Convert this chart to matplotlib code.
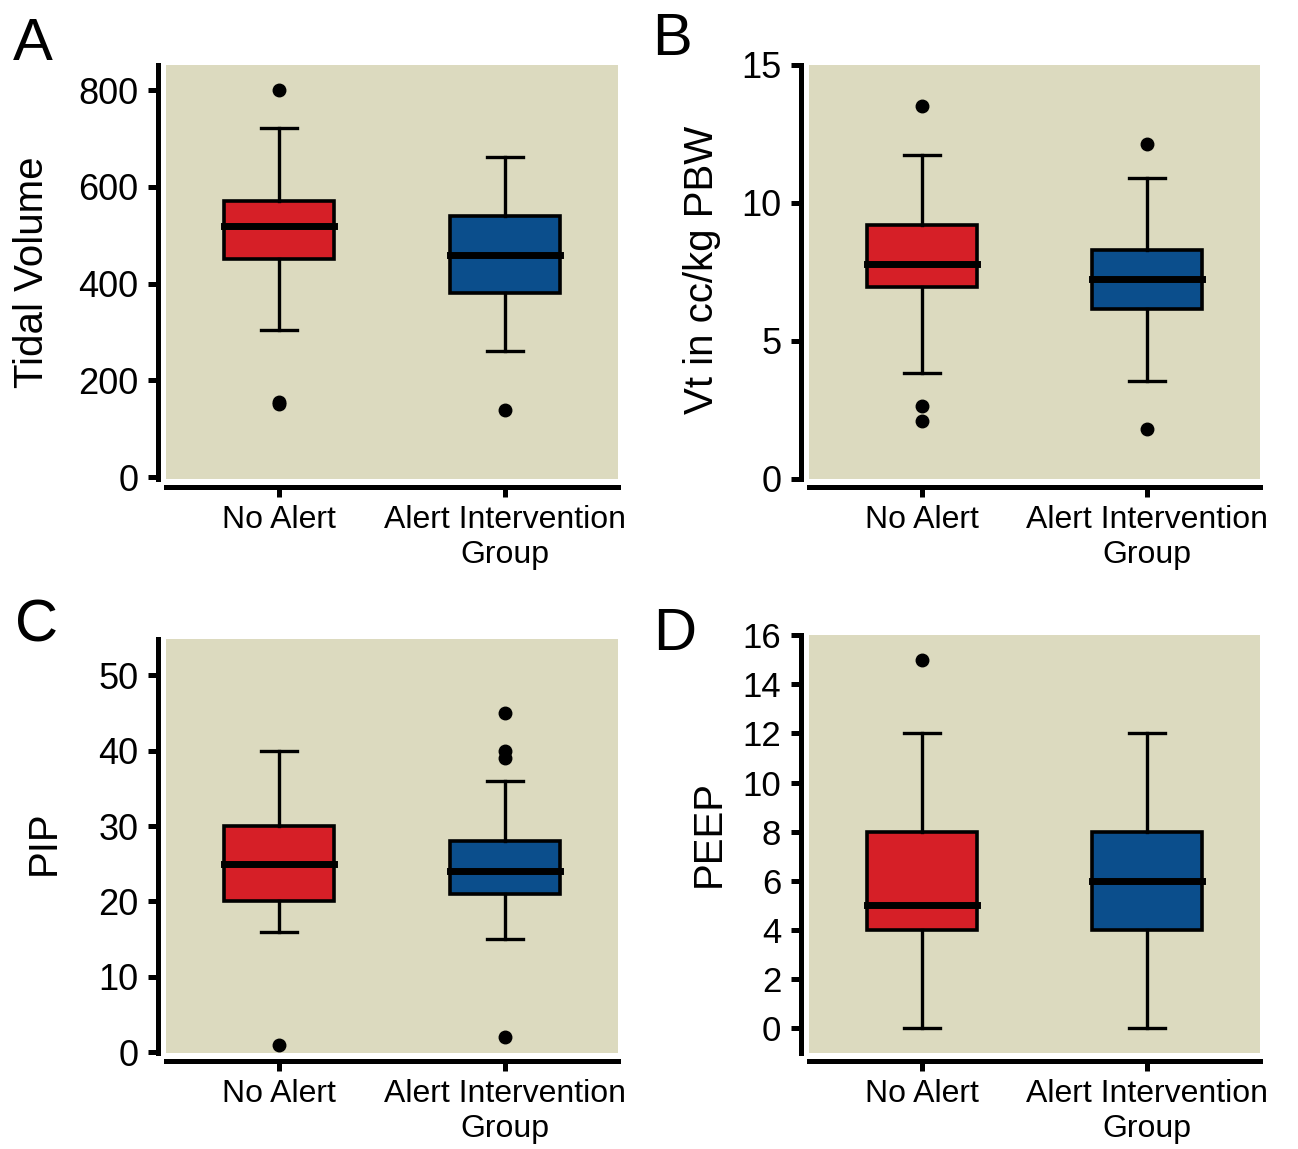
import numpy as np
import matplotlib
matplotlib.use("Agg")
import matplotlib.pyplot as plt

plt.rcParams['font.family'] = ['Liberation Sans', 'DejaVu Sans']

# --- data --------------------------------------------------------------
groups = ["No Alert", "Alert Intervention\nGroup"]

# each box: whislo, q1, med, q3, whishi, fliers
tidal_no = [305, 450, 520, 570, 722, [800, 152, 155]]
tidal_alert = [260, 380, 460, 540, 662, [138]]

vt_no = [3.85, 6.95, 7.8, 9.2, 11.75, [13.5, 2.65, 2.1]]
vt_alert = [3.55, 6.15, 7.25, 8.3, 10.9, [12.15, 1.8]]

pip_no = [16, 20, 25, 30, 40, [1]]
pip_alert = [15, 21, 24, 28, 36, [45, 40, 39, 2]]

peep_no = [0, 4, 5, 8, 12, [15]]
peep_alert = [0, 4, 6, 8, 12, []]

ylabels = ["Tidal Volume", "Vt in cc/kg PBW", "PIP", "PEEP"]
letters = ["A", "B", "C", "D"]
yticks = [[0, 200, 400, 600, 800], [0, 5, 10, 15],
          [0, 10, 20, 30, 40, 50], list(range(0, 17, 2))]
ylims = [(-4, 852), (0, 15), (-0.1, 54.8), (-1, 16)]

# --- style -------------------------------------------------------------
BG = '#DCDABF'
RED = '#D61F27'
BLUE = '#0B4E8C'

W, H = 1298, 1149
fig = plt.figure(figsize=(W / 100, H / 100), dpi=100)


def px_axes(l, t, r, b):
    return fig.add_axes([l / W, 1 - b / H, (r - l) / W, (b - t) / H])


def stats(v):
    return dict(whislo=v[0], q1=v[1], med=v[2], q3=v[3], whishi=v[4], fliers=v[5])


boxes = [(tidal_no, tidal_alert), (vt_no, vt_alert), (pip_no, pip_alert), (peep_no, peep_alert)]
rects = [(166, 65, 618, 479), (809, 65, 1260, 479),
         (166, 639, 618, 1053), (809, 635, 1260, 1053)]
label_x = [-0.296, -0.237, -0.270, -0.222]
label_y = [0.50, 0.505, 0.507, 0.526]
letter_pos = [(13, 60), (652, 55), (15, 642), (653, 650)]

for i in range(4):
    ax = px_axes(*rects[i])
    ax.set_facecolor(BG)
    a, b = boxes[i]
    bp = ax.bxp([stats(a), stats(b)], positions=[1, 2], widths=0.49,
                capwidths=0.16, patch_artist=True,
                boxprops=dict(linewidth=2.6, edgecolor='black'),
                whiskerprops=dict(linewidth=2.4, color='black'),
                capprops=dict(linewidth=2.4, color='black'),
                medianprops=dict(linewidth=5, color='black',
                                 solid_capstyle='projecting'),
                flierprops=dict(marker='o', markerfacecolor='black',
                                markeredgecolor='black', markersize=9))
    for patch, c in zip(bp['boxes'], [RED, BLUE]):
        patch.set_facecolor(c)

    ax.set_xlim(0.5, 2.5)
    ax.set_ylim(*ylims[i])
    ax.set_yticks(yticks[i])
    ax.set_xticks([1, 2])
    ax.set_xticklabels(groups, linespacing=0.92)

    for s in ['top', 'right']:
        ax.spines[s].set_visible(False)
    for s in ['left', 'bottom']:
        ax.spines[s].set_position(('outward', 6))
        ax.spines[s].set_linewidth(3.6)

    ysize = 25 if i == 3 else 26
    ax.tick_params(axis='y', length=7, width=3.6, pad=7, labelsize=ysize)
    ax.tick_params(axis='x', length=7, width=3.6, pad=6, labelsize=23)

    ax.set_ylabel(ylabels[i], fontsize=29, va='center')
    ax.yaxis.set_label_coords(label_x[i], label_y[i])

    lx, ly = letter_pos[i]
    fig.text(lx / W, 1 - ly / H, letters[i], fontsize=43,
             ha='left', va='baseline')

fig.savefig("out.png", dpi=100)
